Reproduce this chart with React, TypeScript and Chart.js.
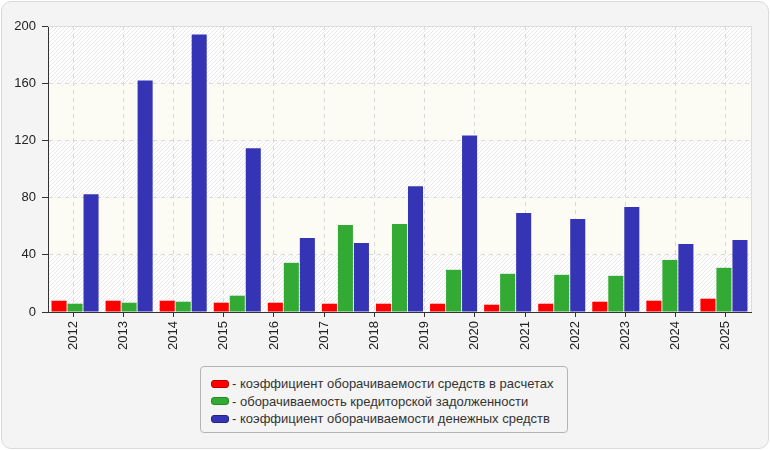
import { useEffect, useRef } from 'react';
import { Chart, registerables } from 'chart.js';

Chart.register(...registerables);

// tick labels on the x axis (14 years)
const years = ['2012', '2013', '2014', '2015', '2016', '2017', '2018', '2019', '2020', '2021', '2022', '2023', '2024', '2025'];
// the picture has 13 bar groups spread over the same width
const groups = ['g1', 'g2', 'g3', 'g4', 'g5', 'g6', 'g7', 'g8', 'g9', 'g10', 'g11', 'g12', 'g13'];

const settlements = [7.9, 7.9, 7.9, 6.5, 6.5, 5.8, 5.8, 5.8, 5.1, 5.8, 7.2, 7.9, 9.3];
const payables = [5.8, 6.5, 7.2, 11.4, 34.4, 60.8, 61.5, 29.5, 26.7, 26, 25.3, 36.4, 30.9];
const cash = [82.4, 161.9, 194, 114.5, 51.8, 48.3, 88, 123.5, 69.2, 65, 73.4, 47.6, 50.4];

const yTicks = [0, 40, 80, 120, 160, 200];

const seriesNames = [
  'коэффициент оборачиваемости средств в расчетах',
  'оборачиваемость кредиторской задолженности',
  'коэффициент оборачиваемости денежных средств',
];
const colors = ['#ff0000', '#33aa33', '#3434b4'];
const borders = ['#c00000', '#208a20', '#22228a'];

const FONT = '"Liberation Sans", Arial, sans-serif';

function makeHatch(ctx: CanvasRenderingContext2D) {
  const c = document.createElement('canvas');
  c.width = 4;
  c.height = 4;
  const p = c.getContext('2d')!;
  p.fillStyle = '#ffffff';
  p.fillRect(0, 0, 4, 4);
  p.strokeStyle = '#e8e8e8';
  p.lineWidth = 1;
  p.beginPath();
  p.moveTo(0, 4);
  p.lineTo(4, 0);
  p.stroke();
  return ctx.createPattern(c, 'repeat');
}

const plotBackground = {
  id: 'plotBackground',
  beforeDraw(chart: any) {
    const { ctx, chartArea, scales } = chart;
    const { left, right } = chartArea;
    const y = scales.y;
    const hatch = makeHatch(ctx);
    ctx.save();
    for (let i = 0; i < yTicks.length - 1; i++) {
      const y1 = y.getPixelForValue(yTicks[i + 1]);
      const y2 = y.getPixelForValue(yTicks[i]);
      ctx.fillStyle = i % 2 === 0 ? hatch : '#fcfcf5';
      ctx.fillRect(left, y1, right - left, y2 - y1);
    }
    ctx.restore();
  },
  beforeDatasetsDraw(chart: any) {
    const { ctx, chartArea } = chart;
    const { left, right, top, bottom } = chartArea;
    ctx.save();
    ctx.strokeStyle = '#dcdcdc';
    ctx.lineWidth = 1;
    ctx.beginPath();
    ctx.moveTo(left, top + 0.5);
    ctx.lineTo(right + 0.5, top + 0.5);
    ctx.lineTo(right + 0.5, bottom);
    ctx.stroke();
    ctx.restore();
  },
};

function BarChart() {
  const canvasRef = useRef<HTMLCanvasElement>(null);

  useEffect(() => {
    const el = canvasRef.current;
    if (!el) return;

    const chart = new Chart(el, {
      type: 'bar',
      data: {
        labels: groups,
        datasets: [settlements, payables, cash].map((d, i) => ({
          label: seriesNames[i],
          data: d,
          backgroundColor: colors[i],
          borderWidth: 0,
          xAxisID: 'xb',
          yAxisID: 'y',
          categoryPercentage: 0.888,
          barPercentage: 0.94,
        })),
      },
      options: {
        responsive: false,
        animation: false,
        layout: { padding: { left: 0, top: 26, right: 19, bottom: 0 } },
        plugins: {
          legend: { display: false },
          tooltip: { enabled: false },
        },
        scales: {
          x: {
            type: 'category',
            labels: years,
            position: 'bottom',
            offset: true,
            afterFit: (s: any) => {
              s.height = 48;
            },
            grid: {
              offset: false,
              color: '#d9d9d9',
              lineWidth: 1,
              tickColor: '#333333',
              tickLength: 5,
            },
            border: { color: '#333333', width: 1, dash: [4, 4] },
            ticks: {
              minRotation: 90,
              maxRotation: 90,
              autoSkip: false,
              padding: 4,
              color: '#222222',
              font: { family: FONT, size: 13 },
            },
          },
          xb: {
            type: 'category',
            axis: 'x',
            position: 'bottom',
            display: false,
            offset: true,
            grid: { display: false },
          },
          y: {
            min: 0,
            max: 200,
            afterFit: (s: any) => {
              s.width = 48;
            },
            afterBuildTicks: (s: any) => {
              s.ticks = yTicks.map((v) => ({ value: v }));
            },
            grid: {
              color: (c: any) =>
                c.tick && (c.tick.value === 0 || c.tick.value === 200) ? 'rgba(0,0,0,0)' : '#d9d9d9',
              tickColor: '#333333',
              tickLength: 6,
            },
            border: { color: '#333333', width: 1, dash: [4, 4] },
            ticks: {
              padding: 6,
              color: '#222222',
              font: { family: FONT, size: 13 },
            },
          },
        },
      } as any,
      plugins: [plotBackground],
    });

    return () => {
      chart.destroy();
    };
  }, []);

  return (
    <canvas
      ref={canvasRef}
      width={770}
      height={360}
      style={{ position: 'absolute', left: 0, top: 0, width: 770, height: 360 }}
    />
  );
}

export default function App() {
  return (
    <div style={{ position: 'fixed', left: 0, top: 0, width: 770, height: 450, overflow: 'hidden', fontFamily: FONT }}>
      <div
        style={{
          position: 'absolute',
          left: 1,
          top: 1,
          width: 766,
          height: 446,
          background: '#f4f4f4',
          border: '1px solid #dadada',
          borderRadius: 10,
        }}
      />
      <BarChart />
      <div
        style={{
          position: 'absolute',
          left: 200,
          top: 366,
          width: 366,
          height: 65,
          border: '1px solid #b4b4b4',
          borderRadius: 4,
          background: '#f4f4f4',
          boxSizing: 'content-box',
        }}
      >
        {seriesNames.map((name, i) => (
          <div
            key={name}
            style={{
              position: 'absolute',
              left: 10,
              top: 8 + i * 17.5,
              height: 17,
              display: 'flex',
              alignItems: 'center',
              whiteSpace: 'nowrap',
              fontSize: 13,
              color: '#333333',
            }}
          >
            <span
              style={{
                display: 'inline-block',
                width: 16,
                height: 6,
                background: colors[i],
                border: `1px solid ${borders[i]}`,
                borderRadius: 3,
                marginRight: 3,
              }}
            />
            <span>- {name}</span>
          </div>
        ))}
      </div>
    </div>
  );
}
